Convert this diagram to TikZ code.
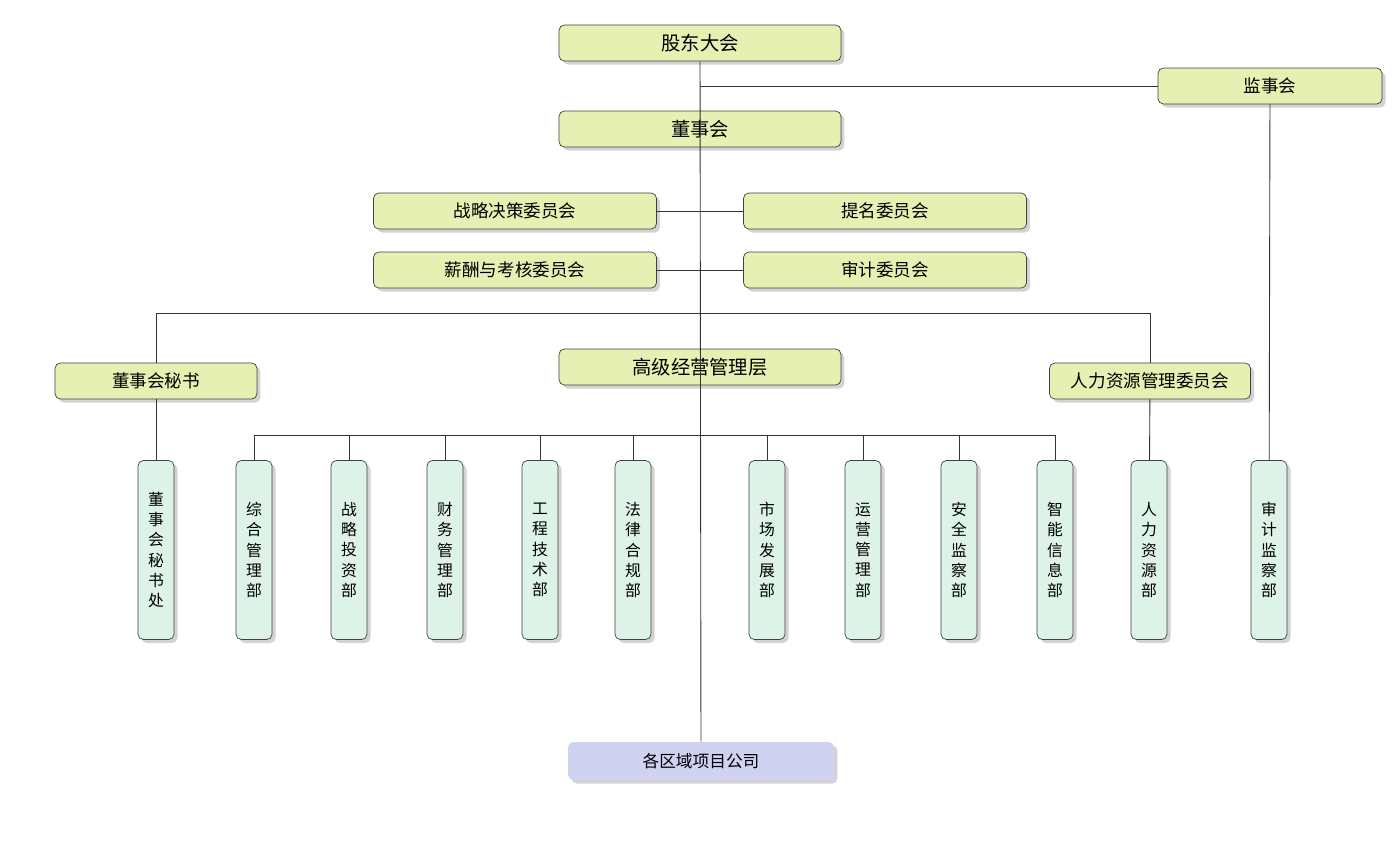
\documentclass[tikz,border=0pt]{standalone}
\usepackage{fontspec}
\setmainfont{Noto Sans CJK SC}
\usetikzlibrary{shadows}
\definecolor{boxyellow}{RGB}{230,240,178}
\definecolor{boxmint}{RGB}{221,243,232}
\definecolor{boxlav}{RGB}{208,210,242}
\tikzset{
  base/.style={align=center, draw=black!75, rounded corners=3pt, drop shadow={opacity=0.35, shadow xshift=2pt, shadow yshift=-2pt}, inner sep=1pt},
  topbox/.style={base, fill=boxyellow, minimum height=0.72cm, font=\fontsize{10}{12}\selectfont},
  deptbox/.style={base, fill=boxmint, minimum width=0.72cm, minimum height=3.58cm, font=\fontsize{9}{11.5}\selectfont},
  companybox/.style={base, draw=none, fill=boxlav, minimum width=5.32cm, minimum height=0.76cm, font=\fontsize{9.5}{12}\selectfont},
  line/.style={draw=black!80, line width=0.5pt}
}
\begin{document}
\begin{tikzpicture}[x=0.02cm, y=-0.02cm]
  \useasboundingbox (0,0) rectangle (1400,840);
  % Board level
  \node[topbox, minimum width=5.64cm, font=\fontsize{11}{13}\selectfont] (gm) at (700,43) {股东大会};
  \node[topbox, minimum width=4.48cm] (jsh) at (1270,86) {监事会};
  \node[topbox, minimum width=5.64cm, font=\fontsize{11}{13}\selectfont] (dsh) at (700,129) {董事会};
  % Committees
  \node[topbox, minimum width=5.66cm] (zl) at (515,211) {战略决策委员会};
  \node[topbox, minimum width=5.66cm] (tm) at (885,211) {提名委员会};
  \node[topbox, minimum width=5.66cm] (xc) at (515,270) {薪酬与考核委员会};
  \node[topbox, minimum width=5.66cm] (sj) at (885,270) {审计委员会};
  % Management
  \node[topbox, minimum width=4.04cm] (ms) at (156,381) {董事会秘书};
  \node[topbox, minimum width=5.64cm, font=\fontsize{11}{13}\selectfont] (gj) at (700,367) {高级经营管理层};
  \node[topbox, minimum width=4.02cm] (rl) at (1150,381) {人力资源管理委员会};
  % Departments
  \foreach \name/\x/\txt in {d0/156/董\\事\\会\\秘\\书\\处, d1/254/综\\合\\管\\理\\部, d2/349/战\\略\\投\\资\\部,
      d3/445/财\\务\\管\\理\\部, d4/540/工\\程\\技\\术\\部, d5/633/法\\律\\合\\规\\部,
      d6/767/市\\场\\发\\展\\部, d7/863/运\\营\\管\\理\\部, d8/959/安\\全\\监\\察\\部,
      d9/1055/智\\能\\信\\息\\部, d10/1149/人\\力\\资\\源\\部, d11/1269/审\\计\\监\\察\\部}
    \node[deptbox] (\name) at (\x,550) {\txt};
  \node[companybox] (co) at (701,761) {各区域项目公司};

  % Edges
  \begin{scope}[on background layer/.style={}]
  \draw[line] (gm) -- (co);
  \draw[line] (jsh.west) -- (jsh.west -| gm);
  \draw[line] (jsh) -- (d11);
  \draw[line] (zl) -- (tm);
  \draw[line] (xc) -- (sj);
  \coordinate (splitl) at (156,313);
  \coordinate (splitr) at (1150,313);
  \draw[line] (ms.north) -- (splitl) -- (splitr) -- (rl.north);
  \draw[line] (ms) -- (d0);
  \draw[line] (rl) -- (d10);
  \draw[line] (d1.north) -- ++(0,-25) -| (d9.north);
  \foreach \d in {d2,d3,d4,d5,d6,d7,d8}
    \draw[line] (\d.north) -- ++(0,-25);
  \end{scope}
\end{tikzpicture}
\end{document}
